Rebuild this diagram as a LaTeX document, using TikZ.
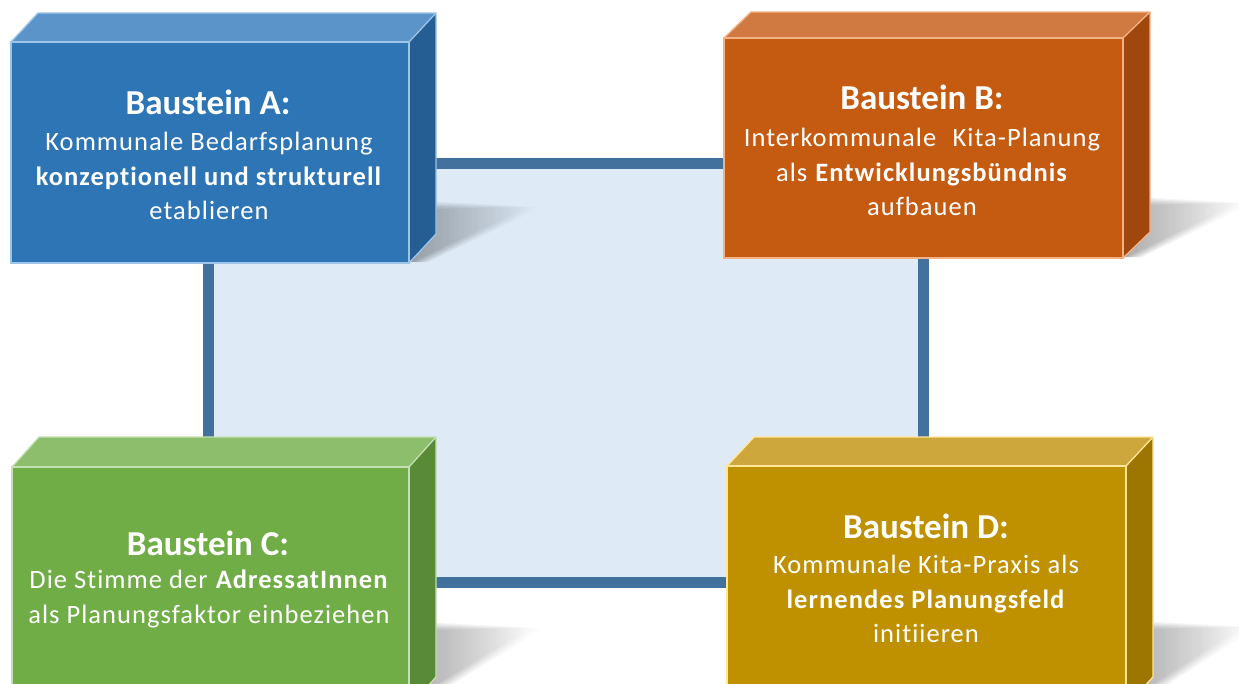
\documentclass[tikz,border=0pt]{standalone}
\usepackage{fontspec}
\setmainfont{Carlito}[LetterSpace=4, Ligatures=NoCommon]
\newfontfamily\titlefont{Carlito}[Ligatures=NoCommon]
\usetikzlibrary{fadings}
\definecolor{Afront}{HTML}{2E75B6}\definecolor{Atop}{HTML}{5B94C9}\definecolor{Aside}{HTML}{255E93}\definecolor{Aline}{HTML}{9DC3E6}
\definecolor{Bfront}{HTML}{C55A11}\definecolor{Btop}{HTML}{D07A42}\definecolor{Bside}{HTML}{A0470E}\definecolor{Bline}{HTML}{F4B183}
\definecolor{Cfront}{HTML}{70AD47}\definecolor{Ctop}{HTML}{8DBE6B}\definecolor{Cside}{HTML}{598A37}\definecolor{Cline}{HTML}{C5E0B4}
\definecolor{Dfront}{HTML}{BF9000}\definecolor{Dtop}{HTML}{CDA73C}\definecolor{Dside}{HTML}{9C7600}\definecolor{Dline}{HTML}{FFE699}
\definecolor{framecol}{HTML}{41719C}
\definecolor{panelcol}{HTML}{DEEBF7}
\newcommand\baubox[5]{%
  \node[face, minimum width=#3, minimum height=#4, fill=#1front] (#1) at (#2) {};
  \fill[#1top] (#1.north west) -- ++(#5) -- ([shift={(#5)}]#1.north east) -- (#1.north east) -- cycle;
  \fill[#1side] (#1.north east) -- ++(#5) -- ([shift={(#5)}]#1.south east) -- (#1.south east) -- cycle;
  \draw[#1line, edge] (#1.north west) -- ++(#5) -- ([shift={(#5)}]#1.north east) -- ([shift={(#5)}]#1.south east) -- (#1.south east);
  \draw[#1line, edge] (#1.north east) -- ++(#5);
  \draw[#1line, edge] (#1.north west) rectangle (#1.south east);
}
% #1 x at side, #2 y top, #3 x tip, #4 x at bottom, #5 y bottom
\newcommand\softshadow[5]{%
  \foreach \d in {0,3,6,9,12,15}{
    \fill[black, fill opacity=0.07, path fading=east]
      (#1-8,#2+6-\d/2) -- (#3+\d-12,#2+4) -- (#4+4+\d,#5-1) -- (#4-20,#5-1) -- cycle;
  }}
\begin{document}
\begin{tikzpicture}[x=1pt,y=-1pt,
  face/.style={inner sep=0pt, outer sep=0pt},
  edge/.style={line width=1.3pt, line join=miter},
  conn/.style={framecol, line width=11pt},
  titletxt/.style={white, font=\titlefont\fontsize{35}{38}\selectfont\bfseries},
  bodytxt/.style={white, align=center, font=\fontsize{26.5}{34.5}\selectfont}]
\clip (0,0) rectangle (1239,683);
\fill[white] (0,0) rectangle (1239,683);
\coordinate (tl) at (208,163);
\coordinate (br) at (923,582);
\fill[panelcol] (tl) rectangle (br);
% placeholders for connector ends
\node[face, minimum width=398, minimum height=221] (An) at (210,152.5) {};
\node[face, minimum width=399, minimum height=220] (Bn) at (923.5,148) {};
\node[face, minimum width=397, minimum height=240] (Cn) at (210.5,587) {};
\node[face, minimum width=399, minimum height=240] (Dn) at (926.5,586) {};
\draw[conn] (An.east |- tl) -- (Bn.west |- tl);
\draw[conn] (An.south -| tl) -- (Cn.north -| tl);
\draw[conn] (Bn.south -| br) -- (Dn.north -| br);
\draw[conn] (Cn.east |- br) -- (Dn.west |- br);
% shadows
\softshadow{437}{203}{540}{409}{263}
\softshadow{1150}{199}{1250}{1123}{258}
\softshadow{437}{624}{542}{409}{700}
\softshadow{1153}{623}{1255}{1126}{700}
% boxes
\baubox{A}{210,152.5}{398}{221}{27,-29}
\baubox{B}{923.5,148}{399}{220}{27,-26}
\baubox{C}{210.5,587}{397}{240}{27,-30}
\baubox{D}{926.5,586}{399}{240}{27,-29}
% texts
\node[titletxt] (At) at (208,102) {Baustein A:};
\node[bodytxt] (Ab) at (209,176) {Kommunale Bedarfsplanung\\\textbf{konzeptionell und strukturell}\\etablieren};
\node[titletxt] (Bt) at (922,97) {Baustein B:};
\node[bodytxt] (Bb) at (922,172) {Interkommunale\hspace{0.35em} Kita-Planung\\als \textbf{Entwicklungsbündnis}\\aufbauen};
\node[titletxt] (Ct) at (208,543) {Baustein C:};
\node[bodytxt] (Cb) at (209,599) {Die Stimme der \textbf{AdressatInnen}\\als Planungsfaktor einbeziehen};
\node[titletxt] (Dt) at (926,526) {Baustein D:};
\node[bodytxt] (Db) at (926,599) {Kommunale Kita-Praxis als\\\textbf{lernendes Planungsfeld}\\initiieren};
\end{tikzpicture}
\end{document}
